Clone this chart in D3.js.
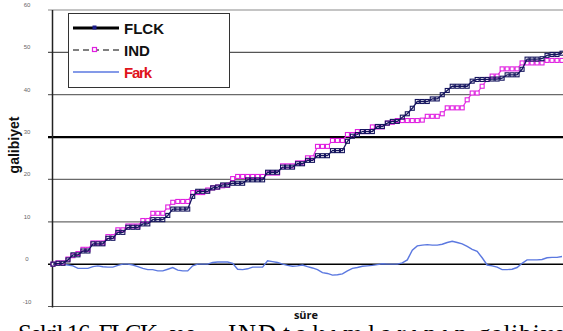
<!DOCTYPE html>
<html>
<head>
<meta charset="utf-8">
<script src="https://cdn.jsdelivr.net/npm/d3@7"></script>
<style>
  body { margin: 0; background: #fff; overflow: hidden; }
  svg { display: block; }
</style>
</head>
<body>
<svg id="canvas" width="563" height="331"></svg>
<script>
// ---- data ----
var seriesNames = ["FLCK", "IND", "Fark"];
var yTicks = [-10, 0, 10, 20, 30, 40, 50, 60];

var flck = [0, 0.2, 0.2, 1, 2.2, 2.2, 3.1, 3.1, 4.8, 4.8,
  4.8, 6.1, 6.1, 7.5, 7.5, 8.7, 8.7, 8.7, 9.5, 9.5,
  10.5, 10.5, 10.5, 11.5, 13, 13, 13, 13, 16, 17.2,
  17.2, 17.2, 18, 18.2, 18.7, 18.7, 19.1, 19.1, 19.1, 19.9,
  19.9, 19.9, 19.9, 21.7, 21.7, 21.7, 22.9, 22.9, 22.9, 23.7,
  23.7, 24.5, 24.5, 25.6, 25.6, 25.6, 26.8, 26.8, 26.8, 29,
  30.2, 30.6, 31.3, 31.3, 31.3, 32.5, 32.5, 33.3, 33.7, 33.7,
  34.7, 35.5, 36.8, 38.4, 38.4, 38.4, 39, 39, 40, 41,
  42, 42, 42, 42, 43.2, 43.6, 43.6, 43.6, 43.7, 43.7,
  43.9, 44.7, 44.7, 44.7, 46, 48.4, 48.4, 48.4, 48.5, 49.3,
  49.5, 49.5, 49.8];

var ind = [0, 0.3, 0.3, 1.2, 2, 2.5, 3.5, 3.5, 5, 5,
  5, 6.5, 6.5, 8.1, 8.1, 9, 9, 9, 10.3, 10.3,
  12, 12, 12, 13.5, 14.6, 14.8, 14.8, 14.8, 16.9, 16.9,
  16.9, 17.5, 18, 18.2, 18.5, 18.6, 20.2, 20.7, 20.7, 20.7,
  20.7, 20.7, 20.7, 21.5, 21.5, 21.5, 23.2, 23.2, 23.2, 23.9,
  23.9, 25.1, 25.1, 27.8, 27.8, 27.8, 29.2, 29.2, 29.2, 30.6,
  30.6, 31.3, 31.3, 31.3, 32.4, 32.4, 32.4, 33.3, 33.5, 33.9,
  33.9, 33.9, 33.9, 33.9, 34, 34.9, 34.9, 34.9, 35.5, 36.9,
  36.9, 36.9, 36.9, 38.8, 40.4, 40.4, 42, 43.6, 44.4, 44.4,
  46.1, 46.1, 46.1, 46.1, 47.5, 47.5, 47.5, 47.5, 47.5, 48.1,
  48.1, 48.1, 48.1];

var fark = [0, 0, 0, -0.2, -0.4, -1, -1, -1, -0.6, -0.4,
  -0.6, -0.7, -0.7, -0.3, 0, 0, -0.2, -0.6, -1, -1.3,
  -1.3, -1.6, -1.6, -1.2, -0.8, -1.4, -1.6, -1.6, -0.4, 0,
  0, 0, 0.4, 0.5, 0.5, 0.5, 0.2, -1.2, -1.3, -1.1,
  -0.7, -0.7, -0.7, 0.8, 0.6, 0.4, 0, -0.3, -0.5, -0.4,
  -0.2, -0.6, -0.9, -1.3, -2, -2.2, -2.6, -2.5, -2.3, -1.6,
  -1, -0.8, -0.5, -0.4, -0.3, -0.1, 0.1, 0, 0, 0,
  0.3, 1, 3.3, 4.3, 4.5, 4.6, 4.5, 4.5, 4.7, 5.1,
  5.4, 5.1, 4.8, 4.2, 3.5, 3, 1.5, -0.2, -0.4, -0.7,
  -1.3, -1.3, -1.2, -0.8, 0.2, 1, 1, 1, 1.1, 1.5,
  1.6, 1.6, 1.8];

var captionWords = ["Şekil 16. FLCK", "ve", "IND", "takımlarının", "galibiyet"];

// ---- layout ----
var svg = d3.select('#canvas');
var x = d3.scaleLinear().domain([0, flck.length - 1]).range([53, 562]);
var y = d3.scaleLinear().domain([-10, 60]).range([306.5, 10]);

// gridlines
var gridStyle = {
  "-10": ["#555", 1.2], "0": ["#000", 1.5], "10": ["#6a6a6a", 1.2], "20": ["#6a6a6a", 1.2],
  "30": ["#000", 2.2], "40": ["#6a6a6a", 1.2], "50": ["#555", 1.2], "60": ["#8a8a8a", 1.2]
};
svg.append('g').selectAll('line').data(yTicks).enter().append('line')
  .attr('x1', 48).attr('x2', 563)
  .attr('y1', d => y(d)).attr('y2', d => y(d))
  .attr('stroke', d => gridStyle[d][0])
  .attr('stroke-width', d => gridStyle[d][1]);

// y axis line
svg.append('line').attr('x1', 52.5).attr('x2', 52.5)
  .attr('y1', y(60)).attr('y2', y(-10) + 1)
  .attr('stroke', '#222').attr('stroke-width', 1.5);

// tick labels (tiny, sitting above the line)
svg.append('g').selectAll('text').data(yTicks).enter().append('text')
  .attr('x', 27).attr('y', d => y(d) - 3)
  .attr('text-anchor', 'middle')
  .attr('font-family', 'Liberation Sans, Arial, sans-serif')
  .attr('font-size', 6).attr('fill', '#666')
  .text(d => d);

// y title
svg.append('text')
  .attr('transform', 'translate(19,145) rotate(-90)')
  .attr('text-anchor', 'middle')
  .attr('font-family', 'Liberation Sans, Arial, sans-serif')
  .attr('font-weight', 'bold').attr('font-size', 14)
  .attr('fill', '#111')
  .text('galibiyet');

// x title
svg.append('text')
  .attr('x', 306).attr('y', 319)
  .attr('text-anchor', 'middle')
  .attr('font-family', 'Open Sans, DejaVu Sans, sans-serif')
  .attr('font-weight', 'bold').attr('font-size', 11)
  .attr('fill', '#111')
  .text('süre');

// ---- series ----
var line = d3.line().x((d, i) => x(i)).y(d => y(d));

svg.append('path').datum(fark)
  .attr('d', line).attr('fill', 'none')
  .attr('stroke', '#5b78e0').attr('stroke-width', 1.4);

svg.append('path').datum(ind)
  .attr('d', line).attr('fill', 'none')
  .attr('stroke', '#e030e0').attr('stroke-width', 1.2);
svg.append('g').selectAll('rect').data(ind).enter().append('rect')
  .attr('x', (d, i) => x(i) - 2).attr('y', d => y(d) - 2)
  .attr('width', 4).attr('height', 4)
  .attr('fill', '#fff').attr('stroke', '#e020e0').attr('stroke-width', 1.1);

svg.append('path').datum(flck)
  .attr('d', line).attr('fill', 'none')
  .attr('stroke', '#15155e').attr('stroke-width', 1.3);
svg.append('g').selectAll('rect').data(flck).enter().append('rect')
  .attr('x', (d, i) => x(i) - 2).attr('y', d => y(d) - 2)
  .attr('width', 4).attr('height', 4)
  .attr('fill', 'none').attr('stroke', '#15155e').attr('stroke-width', 1.1);

// ---- legend ----
var legend = svg.append('g');
legend.append('rect').attr('x', 68.5).attr('y', 13.5).attr('width', 161).attr('height', 74)
  .attr('fill', '#fff').attr('stroke', '#333').attr('stroke-width', 1);

var legY = [28, 50, 72];
legend.append('line').attr('x1', 73).attr('x2', 119).attr('y1', legY[0]).attr('y2', legY[0])
  .attr('stroke', '#000').attr('stroke-width', 3);
legend.append('rect').attr('x', 92.5).attr('y', legY[0] - 2.5).attr('width', 4).attr('height', 4)
  .attr('fill', '#1c1c8a');
legend.append('line').attr('x1', 73).attr('x2', 119).attr('y1', legY[1]).attr('y2', legY[1])
  .attr('stroke', '#000').attr('stroke-width', 1).attr('stroke-dasharray', '6,4');
legend.append('rect').attr('x', 92.5).attr('y', legY[1] - 2.5).attr('width', 4).attr('height', 4)
  .attr('fill', '#fff').attr('stroke', '#e020e0').attr('stroke-width', 1.2);
legend.append('line').attr('x1', 73).attr('x2', 119).attr('y1', legY[2]).attr('y2', legY[2])
  .attr('stroke', '#5b78e0').attr('stroke-width', 1.4);

legend.selectAll('text.lab').data(seriesNames).enter().append('text')
  .attr('class', 'lab')
  .attr('x', 124).attr('y', (d, i) => legY[i] + 5.5)
  .attr('font-family', 'Liberation Sans, Arial, sans-serif')
  .attr('font-weight', 'bold').attr('font-size', 15)
  .attr('fill', (d, i) => i == 2 ? '#e0141c' : '#111')
  .attr('textLength', (d, i) => i == 2 ? 28 : null)
  .text(d => d);

// ---- caption (cut off by the picture edge) ----
var capX = [18, 170, 228, 283, 478];
var capW = [140, 26, 48, 184, 95];
svg.append('g').selectAll('text').data(captionWords).enter().append('text')
  .attr('x', (d, i) => capX[i]).attr('y', 342)
  .attr('textLength', (d, i) => capW[i]).attr('lengthAdjust', 'spacing')
  .attr('font-family', 'Liberation Serif, Times New Roman, serif')
  .attr('font-size', 25).attr('fill', '#000')
  .text(d => d);
</script>
</body>
</html>
